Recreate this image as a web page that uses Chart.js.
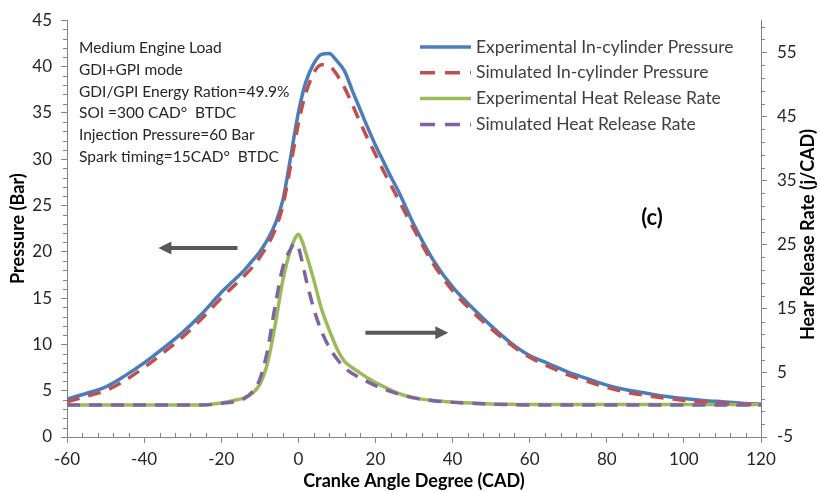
<!DOCTYPE html>
<html>
<head>
<meta charset="utf-8">
<script src="https://cdn.jsdelivr.net/npm/chart.js@4.4.1/dist/chart.umd.min.js"></script>
<style>
  html, body { margin: 0; padding: 0; background: #fff; }
  #wrap { width: 820px; height: 492px; }
</style>
</head>
<body>
<div id="wrap"><canvas id="grafico" width="820" height="492"></canvas></div>
<script>
// angulo de ciguenal (CAD)
const cad = [-60, -55, -50, -45, -40, -35, -30, -25, -20, -16, -14, -12, -10, -8, -6, -4, -2, -1, 0, 1, 2, 4, 6, 8, 10, 12, 14, 16, 18, 20, 22, 24, 26, 28, 30, 35, 40, 45, 50, 55, 60, 65, 70, 75, 80, 85, 90, 95, 100, 105, 110, 115, 120];

// presion en cilindro (bar)
const presionExp = [4.1, 4.7, 5.4, 6.6, 8.0, 9.6, 11.3, 13.3, 15.6, 17.2, 18.0, 19.0, 20.0, 21.3, 23.0, 25.6, 30.2, 32.7, 35.0, 36.9, 38.4, 40.3, 41.3, 41.4, 40.6, 39.5, 37.4, 35.4, 33.4, 31.5, 29.8, 28.1, 26.5, 24.7, 22.9, 19.1, 16.2, 14.0, 12.0, 10.2, 8.8, 7.9, 7.0, 6.3, 5.6, 5.1, 4.75, 4.4, 4.15, 3.95, 3.8, 3.65, 3.55];
const presionSim = [3.8, 4.4, 5.0, 6.1, 7.5, 9.1, 10.8, 12.8, 15.0, 16.6, 17.4, 18.3, 19.4, 20.7, 22.4, 25.0, 29.3, 31.6, 33.8, 35.7, 37.2, 39.3, 40.2, 40.1, 39.1, 37.7, 35.9, 34.0, 32.2, 30.5, 28.8, 27.2, 25.6, 24.0, 22.4, 18.7, 15.8, 13.6, 11.7, 10.0, 8.6, 7.6, 6.7, 6.0, 5.35, 4.85, 4.5, 4.2, 3.95, 3.8, 3.65, 3.55, 3.5];

// tasa de liberacion de calor (J/CAD)
const calorExp = [0, 0, 0, 0, 0, 0, 0, 0, 0.3, 0.8, 1.1, 1.8, 3.2, 6.5, 12.5, 19.5, 24.3, 25.8, 26.6, 25.5, 23.6, 19.5, 15.0, 11.7, 8.8, 6.8, 5.8, 5.0, 4.2, 3.5, 2.9, 2.3, 1.8, 1.4, 1.1, 0.7, 0.45, 0.3, 0.15, 0.1, 0.05, 0.05, 0.05, 0.05, 0.05, 0.05, 0.05, 0.05, 0.05, 0.05, 0.05, 0.05, 0.05];
const calorSim = [0, 0, 0, 0, 0, 0, 0, 0, 0.25, 0.6, 1.0, 2.0, 4.0, 8.5, 15.5, 21.5, 24.3, 25.2, 24.6, 22.3, 19.6, 15.0, 11.5, 9.0, 7.2, 5.8, 4.9, 4.2, 3.6, 3.0, 2.5, 2.1, 1.7, 1.4, 1.1, 0.65, 0.4, 0.25, 0.12, 0.06, 0, 0, 0, 0, 0, 0, 0, 0, 0, 0, 0, 0, 0];

const ticksDerecha = [-5, 5, 15, 25, 35, 45, 55];

const nombres = ['Experimental In-cylinder Pressure', 'Simulated In-cylinder Pressure', 'Experimental Heat Release Rate', 'Simulated Heat Release Rate'];
const notas = ['Medium Engine Load', 'GDI+GPI mode', 'GDI/GPI Energy Ration=49.9%', 'SOI =300 CAD\u00B0  BTDC', 'Injection Pressure=60 Bar', 'Spark timing=15CAD\u00B0  BTDC'];
const tituloDerecha = 'Hear Release Rate (j/CAD)';

const FUENTE = 'Lato, "Open Sans", sans-serif';
const GRIS = '#868686';

const puntos = (serie) => cad.map((x, i) => ({ x: x, y: serie[i] }));

function serie(label, datos, color, eje, punteada, orden) {
    return {
        label: label,
        data: puntos(datos),
        borderColor: color,
        backgroundColor: color,
        borderWidth: 3.5,
        borderDash: punteada ? [13, 9] : [],
        pointRadius: 0,
        cubicInterpolationMode: 'monotone',
        yAxisID: eje,
        order: orden
    };
}

const datasets = [
    serie(nombres[0], presionExp, '#4A7EBB', 'y', false, 4),
    serie(nombres[1], presionSim, '#C0504D', 'y', true, 2),
    serie(nombres[2], calorExp, '#9BBB59', 'y1', false, 3),
    serie(nombres[3], calorSim, '#8064A2', 'y1', true, 1)
];

// marcas menores, leyenda, notas, flechas y titulo derecho
const extras = {
    id: 'extras',
    afterDraw(chart) {
        const ctx = chart.ctx;
        const area = chart.chartArea;
        const sx = chart.scales.x, sy = chart.scales.y, sy1 = chart.scales.y1;
        ctx.save();

        // marcas menores
        ctx.strokeStyle = GRIS;
        ctx.lineWidth = 1;
        ctx.beginPath();
        for (let v = 1; v < 45; v++) {
            if (v % 5 === 0) continue;
            const py = Math.round(sy.getPixelForValue(v)) + 0.5;
            ctx.moveTo(area.left - 4, py);
            ctx.lineTo(area.left, py);
        }
        for (let v = -3; v < 60; v += 2) {
            if ((v + 5) % 10 === 0) continue;
            const py = Math.round(sy1.getPixelForValue(v)) + 0.5;
            ctx.moveTo(area.right, py);
            ctx.lineTo(area.right + 4, py);
        }
        for (let v = -56; v < 120; v += 4) {
            if (v % 20 === 0) continue;
            const px = Math.round(sx.getPixelForValue(v)) + 0.5;
            ctx.moveTo(px, area.bottom - 4);
            ctx.lineTo(px, area.bottom);
        }
        ctx.stroke();

        // notas
        ctx.fillStyle = '#262626';
        ctx.font = '15.5px ' + FUENTE;
        ctx.textBaseline = 'middle';
        ctx.textAlign = 'left';
        notas.forEach((t, i) => ctx.fillText(t, area.left + 12, area.top + 28 + i * 21.7));

        // leyenda
        const lx = 420, ly = 47;
        ctx.font = '17.5px ' + FUENTE;
        chart.data.datasets.forEach((ds, i) => {
            const y = ly + i * 25.8;
            ctx.strokeStyle = ds.borderColor;
            ctx.lineWidth = 3.5;
            ctx.setLineDash(ds.borderDash.length ? [15, 10] : []);
            ctx.beginPath();
            ctx.moveTo(lx, y);
            ctx.lineTo(lx + 51, y);
            ctx.stroke();
            ctx.setLineDash([]);
            ctx.fillStyle = '#404040';
            ctx.fillText(ds.label, lx + 56, y);
        });

        // (c)
        ctx.fillStyle = '#000';
        ctx.font = 'bold 22px ' + FUENTE;
        ctx.textAlign = 'center';
        ctx.fillText('(c)', 652, 218);

        // titulo eje derecho, leido de abajo hacia arriba
        ctx.save();
        ctx.translate(808, (area.top + area.bottom) / 2 + 6);
        ctx.rotate(-Math.PI / 2);
        ctx.font = 'bold 18px ' + FUENTE;
        ctx.fillText(tituloDerecha, 0, 0);
        ctx.restore();

        // flechas
        const flecha = (x0, x1, yv) => {
            const a = sx.getPixelForValue(x0), b = sx.getPixelForValue(x1);
            const y = sy.getPixelForValue(yv);
            const dir = Math.sign(b - a);
            ctx.strokeStyle = '#595959';
            ctx.fillStyle = '#595959';
            ctx.lineWidth = 4;
            ctx.beginPath();
            ctx.moveTo(a, y);
            ctx.lineTo(b - dir * 10, y);
            ctx.stroke();
            ctx.beginPath();
            ctx.moveTo(b, y);
            ctx.lineTo(b - dir * 13, y - 6.5);
            ctx.lineTo(b - dir * 13, y + 6.5);
            ctx.closePath();
            ctx.fill();
        };
        flecha(-15.8, -36.3, 20.4);
        flecha(17.4, 38.9, 11.25);

        ctx.restore();
    }
};

new Chart(document.getElementById('grafico'), {
    type: 'line',
    data: { datasets: datasets },
    options: {
        responsive: false,
        animation: false,
        layout: { padding: { top: 17, left: 0, right: 0, bottom: 0 } },
        plugins: {
            legend: { display: false },
            tooltip: { enabled: false }
        },
        scales: {
            x: {
                type: 'linear',
                min: -60,
                max: 120,
                afterFit: (s) => { s.height = 55; },
                ticks: { stepSize: 20, color: '#262626', font: { family: FUENTE, size: 17 }, padding: 6, maxRotation: 0 },
                grid: { drawOnChartArea: false, drawTicks: true, tickLength: 6, color: GRIS },
                border: { color: GRIS },
                title: { display: true, text: 'Cranke Angle Degree (CAD)', color: '#000', font: { family: FUENTE, size: 18, weight: 'bold' }, padding: { top: 0, bottom: 0 } }
            },
            y: {
                position: 'left',
                min: 0,
                max: 45,
                afterFit: (s) => { s.width = 67; },
                ticks: { stepSize: 5, color: '#262626', font: { family: FUENTE, size: 17 }, padding: 9 },
                grid: { drawOnChartArea: false, drawTicks: true, tickLength: 6, color: GRIS },
                border: { color: GRIS },
                title: { display: true, text: 'Pressure (Bar)', color: '#000', font: { family: FUENTE, size: 18, weight: 'bold' }, padding: { top: 7, bottom: 0 } }
            },
            y1: {
                position: 'right',
                min: -5,
                max: 60,
                afterFit: (s) => { s.width = 59; },
                afterBuildTicks: (s) => { s.ticks = ticksDerecha.map(v => ({ value: v })); },
                ticks: { color: '#262626', font: { family: FUENTE, size: 17 }, padding: 10 },
                grid: { drawOnChartArea: false, drawTicks: true, tickLength: 6, color: GRIS },
                border: { color: GRIS },
                title: { display: false }
            }
        }
    },
    plugins: [extras]
});
</script>
</body>
</html>
